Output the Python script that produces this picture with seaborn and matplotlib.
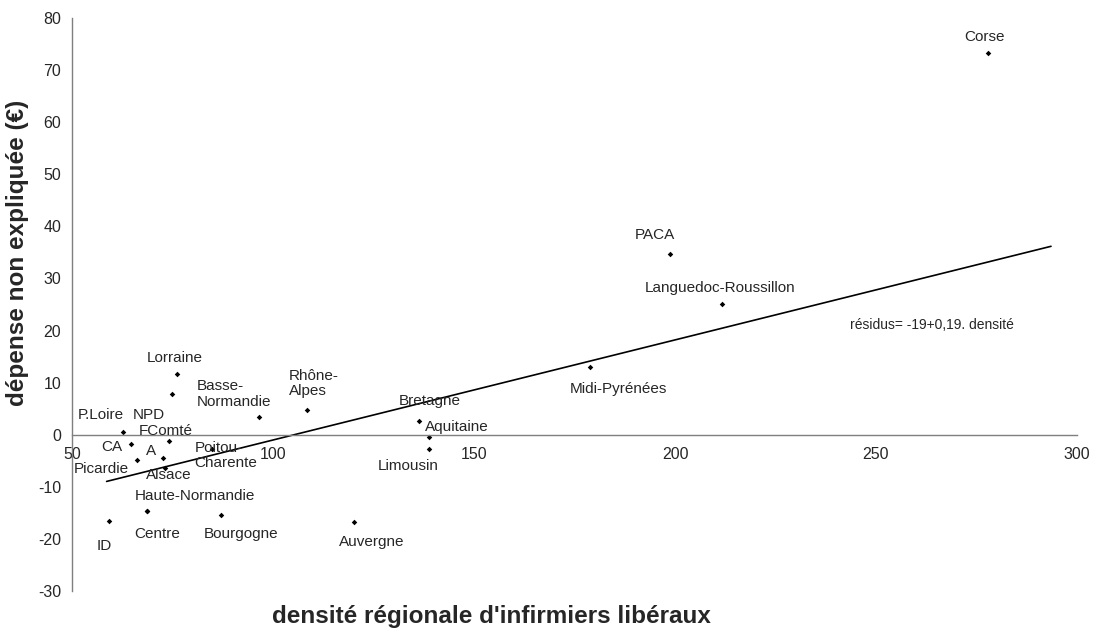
import numpy as np
import pandas as pd
import matplotlib
matplotlib.use("Agg")
import matplotlib.pyplot as plt
import seaborn as sns

# ── data ───────────────────────────────────────────────────
regions = ["Lorraine", "NPD", "P.Loire", "FComté", "CA", "Picardie", "A",
           "Alsace", "Poitou-Charente", "ID", "Centre", "Haute-Normandie",
           "Bourgogne", "Basse-Normandie", "Rhône-Alpes", "Bretagne",
           "Aquitaine", "Limousin", "Auvergne", "Midi-Pyrénées", "PACA",
           "Languedoc-Roussillon", "Corse"]
densite = [75.9, 74.8, 62.6, 74.0, 64.5, 66.1, 72.5,
           73.0, 84.7, 59.1, 68.5, 68.6,
           86.9, 96.4, 108.3, 136.2,
           138.8, 138.8, 120.2, 178.8, 198.8,
           211.8, 278.0]
residus = [11.6, 7.8, 0.6, -1.3, -1.8, -4.8, -4.4,
           -6.4, -2.7, -16.6, -14.7, -14.6,
           -15.5, 3.4, 4.7, 2.7,
           -0.5, -2.7, -16.8, 13.0, 34.7,
           25.1, 73.3]

# fitted trend (as drawn in the source)
fit_intercept, fit_slope = -20.2, 0.192
fit_range = [58.5, 293.6]

label_text = ["Lorraine", "NPD", "P.Loire", "FComté", "CA", "Picardie", "A",
              "Alsace", "Poitou-\nCharente", "ID", "Centre", "Haute-Normandie",
              "Bourgogne", "Basse-\nNormandie", "Rhône-\nAlpes", "Bretagne",
              "Aquitaine", "Limousin", "Auvergne", "Midi-Pyrénées", "PACA",
              "Languedoc-Roussillon", "Corse"]
# label centres, in data units
label_x = [75.4, 68.9, 57.1, 73.3, 59.7, 57.3, 69.5,
           74.1, 88.2, 58.0, 71.0, 80.5,
           91.9, 90.2, 110.0, 138.9,
           145.7, 133.5, 124.5, 185.8, 195.0,
           211.2, 277.0]
label_y = [14.8, 3.8, 3.8, 0.8, -2.4, -6.5, -3.2,
           -7.8, -4.0, -21.3, -19.0, -11.8,
           -19.0, 7.8, 9.8, 6.4,
           1.4, -6.1, -20.6, 8.7, 38.4,
           28.2, 76.4]

eq_text = "résidus= -19+0,19. densité"

df = pd.DataFrame({"region": regions, "densite": densite, "residus": residus})
fit = pd.DataFrame({"densite": fit_range})
fit["residus"] = fit_intercept + fit_slope * fit["densite"]

# ── plot ───────────────────────────────────────────────────
sns.set_theme(style="white")
plt.rcParams["font.family"] = ["Liberation Sans", "DejaVu Sans"]
plt.rcParams["axes.unicode_minus"] = False
txt_col = "#262626"
axis_col = "#7f7f7f"

fig = plt.figure(figsize=(10.93, 6.32), dpi=100)
ax = fig.add_axes([0.0663, 0.0649, 0.9188, 0.9066])

sns.lineplot(data=fit, x="densite", y="residus", color="black", lw=1.2, ax=ax)
sns.scatterplot(data=df, x="densite", y="residus", marker="D", s=8,
                color="black", linewidth=0, ax=ax)

for t, lx, ly in zip(label_text, label_x, label_y):
    ax.text(lx, ly, t, ha="center", va="center", ma="left",
            fontsize=11, color=txt_col, linespacing=1.15)
ax.text(243.6, 21.1, eq_text, ha="left", va="center", fontsize=10, color=txt_col)

ax.set_xlim(50, 300)
ax.set_ylim(-30, 80)
ax.set_xticks(np.arange(50, 301, 50))
ax.set_yticks(np.arange(-30, 81, 10))

ax.spines["top"].set_visible(False)
ax.spines["right"].set_visible(False)
ax.spines["bottom"].set_position(("data", 0))
for s in ["left", "bottom"]:
    ax.spines[s].set_color(axis_col)
    ax.spines[s].set_linewidth(1.0)

ax.tick_params(axis="both", direction="out", length=4, width=1,
               color=axis_col, labelcolor=txt_col, labelsize=11.5)
ax.tick_params(axis="x", pad=5)
ax.tick_params(axis="y", pad=4)

ax.set_xlabel("densité régionale d'infirmiers libéraux", fontsize=17.5,
              fontweight="bold", color=txt_col)
ax.set_ylabel("dépense non expliquée (€)", fontsize=17.5,
              fontweight="bold", color=txt_col)
ax.xaxis.set_label_coords(0.417, -0.024)
ax.yaxis.set_label_coords(-0.043, 0.59)

fig.savefig("out.png", dpi=100)
